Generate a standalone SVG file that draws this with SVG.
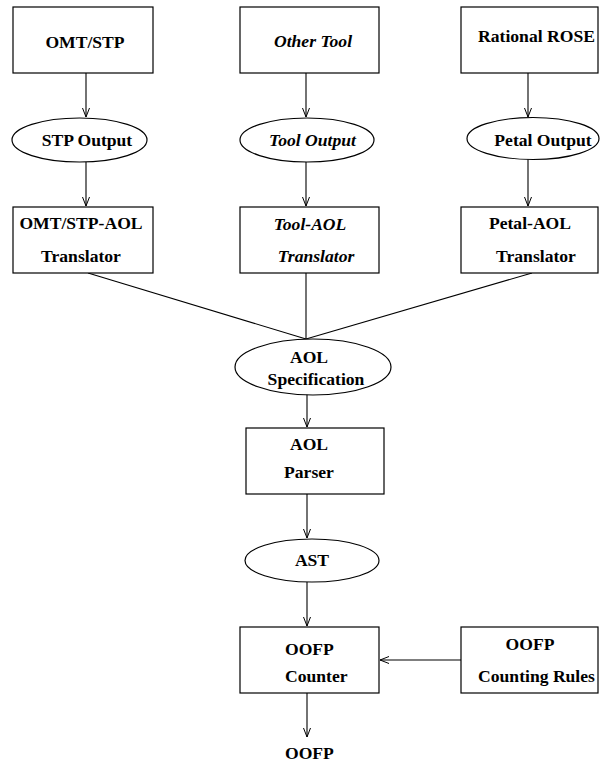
<svg xmlns="http://www.w3.org/2000/svg" width="600" height="764" viewBox="0 0 600 764">
<style>
.n{fill:#fff;stroke:#000;stroke-width:1.2}
.t{font-family:"Liberation Serif","Times New Roman",serif;font-weight:bold;font-size:17.6px;fill:#000;text-anchor:middle}
.i{font-style:italic}
.s{text-anchor:start}
.c{fill:none;stroke:#000;stroke-width:1.1}
</style>
<defs>
<marker id="a" markerWidth="10" markerHeight="12" refX="9" refY="4" orient="auto" markerUnits="userSpaceOnUse" viewBox="0 0 10 8">
<path d="M0,0.5 L9,4 L0,7.5" fill="none" stroke="#000" stroke-width="1"/>
</marker>
</defs>
<rect width="600" height="764" fill="#fff"/>
<g id="connectors">
<line class="c" x1="86" y1="73" x2="86" y2="117" marker-end="url(#a)"/>
<line class="c" x1="86" y1="162" x2="86" y2="206" marker-end="url(#a)"/>
<line class="c" x1="306" y1="73" x2="306" y2="117" marker-end="url(#a)"/>
<line class="c" x1="306" y1="162" x2="306" y2="206" marker-end="url(#a)"/>
<line class="c" x1="528" y1="73" x2="528" y2="117" marker-end="url(#a)"/>
<line class="c" x1="528" y1="159" x2="528" y2="206" marker-end="url(#a)"/>
<line class="c" x1="88" y1="273" x2="306" y2="339"/>
<line class="c" x1="306" y1="273" x2="306" y2="339"/>
<line class="c" x1="532" y1="273" x2="306" y2="339"/>
<line class="c" x1="307" y1="394" x2="307" y2="427" marker-end="url(#a)"/>
<line class="c" x1="307" y1="494" x2="307" y2="538" marker-end="url(#a)"/>
<line class="c" x1="307" y1="582" x2="307" y2="626" marker-end="url(#a)"/>
<line class="c" x1="461" y1="660" x2="380" y2="660" marker-end="url(#a)"/>
<line class="c" x1="307" y1="693" x2="307" y2="737" marker-end="url(#a)"/>
</g>
<g id="omtstp"><rect class="n" x="13" y="7" width="140" height="66"/><text class="t" x="85" y="48">OMT/STP</text></g>
<g id="othertool"><rect class="n" x="240" y="7" width="139" height="66"/><text class="t i" x="313" y="47">Other Tool</text></g>
<g id="rose"><rect class="n" x="461" y="7" width="137" height="66"/><text class="t" x="536.5" y="42">Rational ROSE</text></g>
<g id="stpout"><ellipse class="n" cx="79.5" cy="140" rx="67.5" ry="22"/><text class="t" x="87" y="146">STP Output</text></g>
<g id="toolout"><ellipse class="n" cx="307" cy="140" rx="67" ry="22"/><text class="t i" x="312.5" y="146">Tool Output</text></g>
<g id="petalout"><ellipse class="n" cx="533" cy="138.5" rx="66" ry="21"/><text class="t" x="543" y="146">Petal Output</text></g>
<g id="omtaol"><rect class="n" x="13" y="207" width="140" height="66"/><text class="t" x="81" y="229">OMT/STP-AOL</text><text class="t" x="81" y="262">Translator</text></g>
<g id="toolaol"><rect class="n" x="240" y="207" width="139" height="66"/><text class="t i" x="310" y="230">Tool-AOL</text><text class="t i" x="316" y="262">Translator</text></g>
<g id="petalaol"><rect class="n" x="461" y="207" width="137" height="66"/><text class="t" x="530" y="229">Petal-AOL</text><text class="t" x="536" y="262">Translator</text></g>
<g id="aolspec"><ellipse class="n" cx="313" cy="367" rx="78" ry="28"/><text class="t" x="309" y="363">AOL</text><text class="t" x="316" y="385">Specification</text></g>
<g id="aolparser"><rect class="n" x="246" y="428" width="138" height="66"/><text class="t" x="309" y="450">AOL</text><text class="t" x="309" y="478">Parser</text></g>
<g id="ast"><ellipse class="n" cx="312" cy="560.5" rx="67" ry="21.5"/><text class="t" x="312" y="566">AST</text></g>
<g id="counter"><rect class="n" x="240" y="627" width="139" height="66"/><text class="t s" x="285" y="655">OOFP</text><text class="t s" x="285" y="682">Counter</text></g>
<g id="rules"><rect class="n" x="461" y="627" width="137" height="66"/><text class="t" x="530" y="650">OOFP</text><text class="t" x="536.5" y="682">Counting Rules</text></g>
<g id="oofp"><text class="t s" x="285" y="759">OOFP</text></g>
</svg>
